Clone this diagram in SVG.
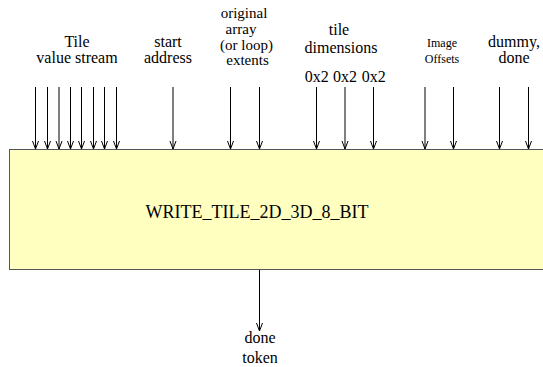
<svg xmlns="http://www.w3.org/2000/svg" width="543" height="367" viewBox="0 0 543 367">
<style>
text{fill:#000;text-anchor:middle}
.sm{font-size:12px}
.st{font-size:15px}
.big{font-size:18px}
.c line{stroke:#000;stroke-width:1;marker-end:url(#ah)}
</style>
<defs>
<marker id="ah" markerUnits="userSpaceOnUse" markerWidth="10" markerHeight="12" viewBox="-5 -10 10 12" refX="0" refY="0" orient="auto-start-reverse" overflow="visible">
<path d="M-8,-3 L0,0 L-8,3" fill="none" stroke="#000" stroke-width="1"/>
</marker>
</defs>
<rect width="543" height="367" fill="#fff"/>
<g font-family="Liberation Serif, Times New Roman, serif" font-size="16">
<g id="block">
<rect x="9.5" y="149.5" width="600" height="120" fill="#ffffc0" stroke="#555" stroke-width="1"/>
<text class="big" x="257" y="218">WRITE_TILE_2D_3D_8_BIT</text>
</g>
<g id="labels">
<text x="77" y="47">Tile</text>
<text x="77" y="63">value stream</text>
<text x="168" y="47">start</text>
<text x="168" y="63">address</text>
<text class="st" x="244" y="18">original</text>
<text class="st" x="241" y="34">array</text>
<text class="st" x="246.5" y="50">(or loop)</text>
<text class="st" x="247.5" y="65">extents</text>
<text x="339" y="35">tile</text>
<text x="341" y="53">dimensions</text>
<text x="316.7" y="81.5">0x2</text>
<text x="345" y="81.5">0x2</text>
<text x="373.7" y="81.5">0x2</text>
<text class="sm" x="442" y="47">Image</text>
<text class="sm" x="442" y="63">Offsets</text>
<text x="514" y="47">dummy,</text>
<text x="514" y="63">done</text>
<text x="260" y="343">done</text>
<text x="260" y="363">token</text>
</g>
</g>
<g id="connectors" class="c">
<line x1="35.5" y1="87" x2="35.5" y2="149"/>
<line x1="47.5" y1="87" x2="47.5" y2="149"/>
<line x1="59" y1="87" x2="59" y2="149"/>
<line x1="70.5" y1="87" x2="70.5" y2="149"/>
<line x1="81.5" y1="87" x2="81.5" y2="149"/>
<line x1="93.5" y1="87" x2="93.5" y2="149"/>
<line x1="104.5" y1="87" x2="104.5" y2="149"/>
<line x1="116.5" y1="87" x2="116.5" y2="149"/>
<line x1="173" y1="87" x2="173" y2="149"/>
<line x1="230.5" y1="87" x2="230.5" y2="149"/>
<line x1="259.5" y1="87" x2="259.5" y2="149"/>
<line x1="316.5" y1="87" x2="316.5" y2="149"/>
<line x1="345" y1="87" x2="345" y2="149"/>
<line x1="373.5" y1="87" x2="373.5" y2="149"/>
<line x1="425" y1="87" x2="425" y2="149"/>
<line x1="453.5" y1="87" x2="453.5" y2="149"/>
<line x1="499.5" y1="87" x2="499.5" y2="149"/>
<line x1="528.5" y1="87" x2="528.5" y2="149"/>
<line x1="259.5" y1="270" x2="259.5" y2="331"/>
</g>
</svg>
